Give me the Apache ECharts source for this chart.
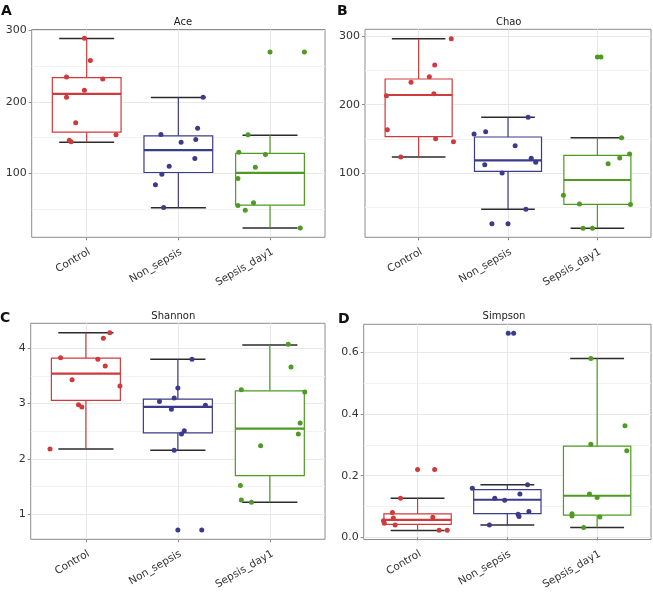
<!DOCTYPE html>
<html>
<head>
<meta charset="utf-8">
<script src="https://cdn.jsdelivr.net/npm/echarts@6/dist/echarts.min.js"></script>
<style>
html,body{margin:0;padding:0;background:#fff;}
#chart{width:653px;height:592px;}
</style>
</head>
<body>
<div id="chart"></div>
<script>
// ---------- DATA ----------
const categories = ['Control', 'Non_sepsis', 'Sepsis_day1'];

// box stats per group: [lowerWhisker, Q1, median, Q3, upperWhisker]
const aceBox = [[143.5, 157.5, 211.2, 234.1, 288.8], [51.4, 100.9, 132.2, 152.3, 206.1], [22.9, 55.1, 100.5, 127.6, 153.3]];
const aceValues = [
  [289.3, 258, 235, 232.2, 216.4, 206.5, 170.6, 153.7, 146.3, 144],
  [206.5, 163.1, 154.2, 147.2, 143.5, 120.6, 109.8, 98.6, 83.6, 51.9],
  [270.1, 270.1, 153.7, 129.4, 126.2, 108.4, 92.5, 58.4, 54.7, 48.1, 22.9]
];
const aceJitter = [
  [-0.025, 0.04, -0.22, 0.175, -0.025, -0.22, -0.12, 0.32, -0.19, -0.17],
  [0.27, 0.21, -0.19, 0.19, 0.03, 0.18, -0.10, -0.18, -0.25, -0.16],
  [0.0, 0.375, -0.24, -0.34, -0.05, -0.16, -0.35, -0.18, -0.35, -0.27, 0.33]
];

const chaoBox = [[123.8, 153.4, 214.1, 237.4, 296.1], [47.6, 102.9, 118.9, 152.9, 181.6], [19.9, 54.9, 90.3, 126.2, 151.9]];
const chaoValues = [
  [296.1, 257.8, 240.8, 232.5, 216, 213.1, 163.6, 150.5, 146.1, 123.8],
  [181.6, 160.7, 157.3, 140.3, 121.8, 116, 112.6, 100.5, 47.6, 26.7, 26.7],
  [269.4, 269.4, 151.9, 128.2, 122.3, 114.1, 68, 55.3, 54.4, 19.9, 19.9]
];
const chaoJitter = [
  [0.365, 0.18, 0.12, -0.085, 0.17, -0.36, -0.35, 0.19, 0.39, -0.2],
  [0.225, -0.25, -0.38, 0.08, 0.26, 0.31, -0.26, -0.066, 0.2, -0.18, 0.0],
  [0.0, 0.04, 0.27, 0.36, 0.25, 0.12, -0.38, -0.2, 0.37, -0.16, -0.055]
];

const shannonBox = [[2.18, 3.06, 3.54, 3.82, 4.28], [2.16, 2.47, 2.94, 3.08, 3.80], [1.22, 1.70, 2.55, 3.23, 4.06]];
const shannonValues = [
  [4.28, 4.18, 3.83, 3.80, 3.68, 3.43, 3.32, 2.98, 2.94, 2.18],
  [3.80, 3.28, 3.10, 3.04, 2.97, 2.90, 2.51, 2.45, 2.16, 0.72, 0.72],
  [4.07, 3.66, 3.25, 3.21, 2.65, 2.45, 2.24, 1.52, 1.26, 1.22]
];
const shannonJitter = [
  [0.26, 0.19, -0.275, 0.13, 0.21, -0.15, 0.37, -0.08, -0.044, -0.39],
  [0.154, 0.0, -0.04, -0.2, 0.3, -0.07, 0.07, 0.04, -0.04, 0.0, 0.26],
  [0.2, 0.23, -0.31, 0.38, 0.33, 0.31, -0.10, -0.32, -0.31, -0.2]
];

const simpsonBox = [[0.022, 0.042, 0.057, 0.076, 0.127], [0.040, 0.077, 0.122, 0.155, 0.171], [0.032, 0.072, 0.135, 0.296, 0.580]];
const simpsonValues = [
  [0.22, 0.22, 0.127, 0.081, 0.063, 0.065, 0.054, 0.046, 0.040, 0.023, 0.023],
  [0.662, 0.662, 0.171, 0.159, 0.141, 0.127, 0.120, 0.084, 0.075, 0.068, 0.040],
  [0.580, 0.362, 0.302, 0.281, 0.141, 0.129, 0.077, 0.069, 0.066, 0.032]
];
const simpsonJitter = [
  [0.0, 0.19, -0.19, -0.28, -0.27, 0.17, -0.38, -0.37, -0.25, 0.24, 0.33],
  [0.01, 0.07, 0.225, -0.39, 0.14, -0.14, -0.03, 0.24, 0.12, 0.13, -0.2],
  [-0.07, 0.31, -0.07, 0.33, -0.085, 0.0, -0.28, -0.28, 0.03, -0.15]
];

const aceTicks = [100, 200, 300], aceMinor = [50, 150, 250];
const chaoTicks = [100, 200, 300], chaoMinor = [50, 150, 250];
const shannonTicks = [1, 2, 3, 4], shannonMinor = [1.5, 2.5, 3.5];
const simpsonTicks = [0, 0.2, 0.4, 0.6], simpsonMinor = [0.1, 0.3, 0.5];

// ---------- LAYOUT / STYLE ----------
const colors = ['#cf3a3c', '#3b3b8c', '#4e9a22'];
const FONT = 'DejaVu Sans';

const panels = [
  {letter: 'A', title: 'Ace', box: aceBox, values: aceValues, jitter: aceJitter, ticks: aceTicks, minor: aceMinor,
   grid: {left: 31.7, top: 29.5, width: 293.3, height: 207.8}, ymin: 10, ymax: 301.5, dec: 0,
   lx: 1, ly: 4, tx: 183, ty: 17},
  {letter: 'B', title: 'Chao', box: chaoBox, values: chaoValues, jitter: chaoJitter, ticks: chaoTicks, minor: chaoMinor,
   grid: {left: 365, top: 29.3, width: 286, height: 208}, ymin: 6.8, ymax: 309.8, dec: 0,
   lx: 337, ly: 4, tx: 508.7, ty: 17.5},
  {letter: 'C', title: 'Shannon', box: shannonBox, values: shannonValues, jitter: shannonJitter, ticks: shannonTicks, minor: shannonMinor,
   grid: {left: 30.7, top: 323.3, width: 294.3, height: 216}, ymin: 0.55, ymax: 4.45, dec: 0,
   lx: 0, ly: 311, tx: 173.3, ty: 311},
  {letter: 'D', title: 'Simpson', box: simpsonBox, values: simpsonValues, jitter: simpsonJitter, ticks: simpsonTicks, minor: simpsonMinor,
   grid: {left: 363.7, top: 324.3, width: 287.3, height: 218}, ymin: -0.007, ymax: 0.691, dec: 1,
   lx: 338, ly: 312, tx: 504, ty: 311}
];

const grids = [], xAxes = [], yAxes = [], series = [], titles = [];

panels.forEach((p, i) => {
  grids.push(Object.assign({show: true, borderColor: '#8c8c8c', borderWidth: 1, backgroundColor: 'transparent'}, p.grid));
  xAxes.push({
    type: 'value', gridIndex: i, min: 0.4, max: 3.6,
    axisLine: {show: false},
    axisTick: {show: true, customValues: [1, 2, 3], length: 3, lineStyle: {color: '#8c8c8c'}},
    axisLabel: {customValues: [1, 2, 3], rotate: 30, align: 'right', verticalAlign: 'top',
                color: '#333', fontFamily: FONT, fontSize: 10.5, margin: 9,
                formatter: v => categories[Math.round(v) - 1]},
    splitLine: {show: true, lineStyle: {color: '#e8e8e8', width: 1}}
  });
  yAxes.push({
    type: 'value', gridIndex: i, min: p.ymin, max: p.ymax,
    axisLine: {show: false},
    axisTick: {show: true, customValues: p.ticks, length: 3, lineStyle: {color: '#8c8c8c'}},
    axisLabel: {customValues: p.ticks, color: '#333', fontFamily: FONT, fontSize: 11, margin: 5,
                formatter: v => Number(v).toFixed(p.dec)},
    splitLine: {show: true, lineStyle: {color: '#e8e8e8', width: 1}}
  });
});
// minor y axes (grid lines only)
panels.forEach((p, i) => {
  yAxes.push({
    type: 'value', gridIndex: i, min: p.ymin, max: p.ymax, position: 'left',
    axisLine: {show: false},
    axisTick: {show: false, customValues: p.minor},
    axisLabel: {show: false, customValues: p.minor},
    splitLine: {show: true, lineStyle: {color: '#f2f2f2', width: 1}}
  });
});

panels.forEach((p, i) => {
  series.push({
    type: 'custom', xAxisIndex: i, yAxisIndex: i, z: 2,
    data: p.box.map((b, k) => [k + 1].concat(b)),
    encode: {x: 0, y: [1, 2, 3, 4, 5]},
    renderItem: function (params, api) {
      const c = api.value(0);
      const wl = api.value(1), q1 = api.value(2), med = api.value(3), q3 = api.value(4), wh = api.value(5);
      const col = colors[c - 1];
      const capA = api.coord([c - 0.3, wh]), capB = api.coord([c + 0.3, wh]);
      const capC = api.coord([c - 0.3, wl]), capD = api.coord([c + 0.3, wl]);
      const top = api.coord([c - 0.375, q3]), bot = api.coord([c + 0.375, q1]);
      const mA = api.coord([c - 0.375, med]), mB = api.coord([c + 0.375, med]);
      const cx = api.coord([c, q3])[0];
      const pWh = api.coord([c, wh]), pWl = api.coord([c, wl]), pQ1 = api.coord([c, q1]);
      return {
        type: 'group',
        children: [
          {type: 'line', shape: {x1: capA[0], y1: capA[1], x2: capB[0], y2: capB[1]}, style: {stroke: '#2b2b2b', lineWidth: 1.5}},
          {type: 'line', shape: {x1: capC[0], y1: capC[1], x2: capD[0], y2: capD[1]}, style: {stroke: '#2b2b2b', lineWidth: 1.5}},
          {type: 'line', shape: {x1: cx, y1: pWh[1], x2: cx, y2: top[1]}, style: {stroke: col, lineWidth: 1.2}},
          {type: 'line', shape: {x1: cx, y1: pQ1[1], x2: cx, y2: pWl[1]}, style: {stroke: col, lineWidth: 1.2}},
          {type: 'rect', shape: {x: top[0], y: top[1], width: bot[0] - top[0], height: bot[1] - top[1]},
           style: {fill: '#fff', stroke: col, lineWidth: 1.2}},
          {type: 'line', shape: {x1: mA[0], y1: mA[1], x2: mB[0], y2: mB[1]}, style: {stroke: col, lineWidth: 2.2}}
        ]
      };
    }
  });
  p.values.forEach((vals, g) => {
    series.push({
      type: 'scatter', xAxisIndex: i, yAxisIndex: i, z: 5,
      symbolSize: 5, itemStyle: {color: colors[g], opacity: 1},
      data: vals.map((v, k) => [g + 1 + p.jitter[g][k], v]),
      silent: true
    });
  });
  titles.push({text: p.title, left: p.tx, top: p.ty, textAlign: 'center', padding: 0,
               textStyle: {fontFamily: FONT, fontSize: 10, fontWeight: 'normal', color: '#1a1a1a'}});
  titles.push({text: p.letter, left: p.lx, top: p.ly, padding: 0,
               textStyle: {fontFamily: FONT, fontSize: 14, fontWeight: 'bold', color: '#111'}});
});

const chart = echarts.init(document.getElementById('chart'), null, {renderer: 'canvas'});
chart.setOption({
  animation: false,
  backgroundColor: '#fff',
  title: titles,
  grid: grids,
  xAxis: xAxes,
  yAxis: yAxes,
  series: series
});
</script>
</body>
</html>
